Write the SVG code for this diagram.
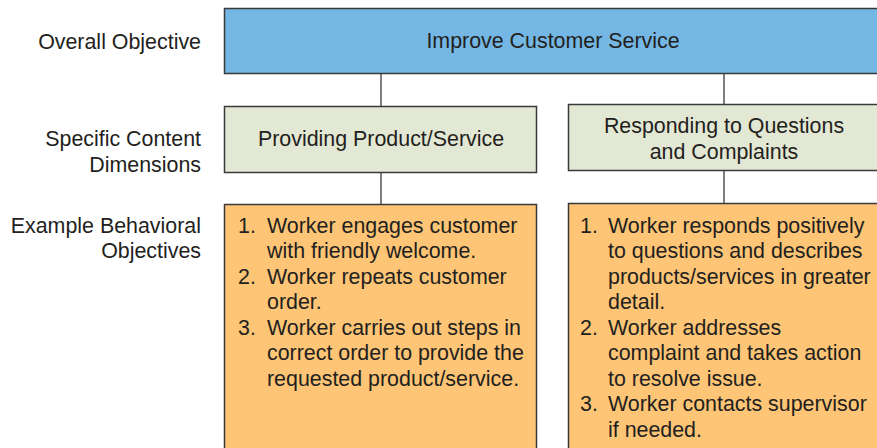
<svg xmlns="http://www.w3.org/2000/svg" width="877" height="448" viewBox="0 0 877 448">
<style>
text{font-family:"Liberation Sans",Arial,sans-serif;font-size:21.4px;fill:#231f20}
.lbl{text-anchor:end}
.c{text-anchor:middle}
.box{stroke:#3a3a3a;stroke-width:1.5}
.top{fill:#74b7e4}
.mid{fill:#e3e8d4}
.bot{fill:#fdc575}
.conn{stroke:#3a3a3a;stroke-width:1.3;fill:none}
</style>
<rect width="877" height="448" fill="#fff"/>
<g id="labels">
<text class="lbl" x="201" y="49">Overall Objective</text>
<text class="lbl" x="201" y="146">Specific Content</text>
<text class="lbl" x="201" y="172">Dimensions</text>
<text class="lbl" x="201" y="233">Example Behavioral</text>
<text class="lbl" x="201" y="258">Objectives</text>
</g>
<g id="connectors">
<line class="conn" x1="381" y1="73" x2="381" y2="107"/>
<line class="conn" x1="724" y1="73" x2="724" y2="105"/>
<line class="conn" x1="381" y1="172" x2="381" y2="204"/>
<line class="conn" x1="724" y1="170" x2="724" y2="203"/>
</g>
<g id="overall">
<rect class="box top" x="224.5" y="8.5" width="660" height="65"/>
<text class="c" x="553" y="48">Improve Customer Service</text>
</g>
<g id="dim-product">
<rect class="box mid" x="224.5" y="106.5" width="312" height="66"/>
<text class="c" x="381" y="146">Providing Product/Service</text>
</g>
<g id="dim-questions">
<rect class="box mid" x="568.5" y="104.5" width="316" height="66"/>
<text class="c" x="724" y="133">Responding to Questions</text>
<text class="c" x="724" y="159">and Complaints</text>
</g>
<g id="beh-product">
<rect class="box bot" x="224.5" y="204.5" width="312" height="260"/>
<text x="238" y="233">1.</text><text x="267" y="233">Worker engages customer</text>
<text x="267" y="258">with friendly welcome.</text>
<text x="238" y="284">2.</text><text x="267" y="284">Worker repeats customer</text>
<text x="267" y="309">order.</text>
<text x="238" y="335">3.</text><text x="267" y="335">Worker carries out steps in</text>
<text x="267" y="360">correct order to provide the</text>
<text x="267" y="386">requested product/service.</text>
</g>
<g id="beh-questions">
<rect class="box bot" x="568.5" y="203.5" width="316" height="260"/>
<text x="580" y="233">1.</text><text x="608" y="233">Worker responds positively</text>
<text x="608" y="258">to questions and describes</text>
<text x="608" y="284">products/services in greater</text>
<text x="608" y="309">detail.</text>
<text x="580" y="335">2.</text><text x="608" y="335">Worker addresses</text>
<text x="608" y="360">complaint and takes action</text>
<text x="608" y="386">to resolve issue.</text>
<text x="580" y="411">3.</text><text x="608" y="411">Worker contacts supervisor</text>
<text x="608" y="437">if needed.</text>
</g>
</svg>
